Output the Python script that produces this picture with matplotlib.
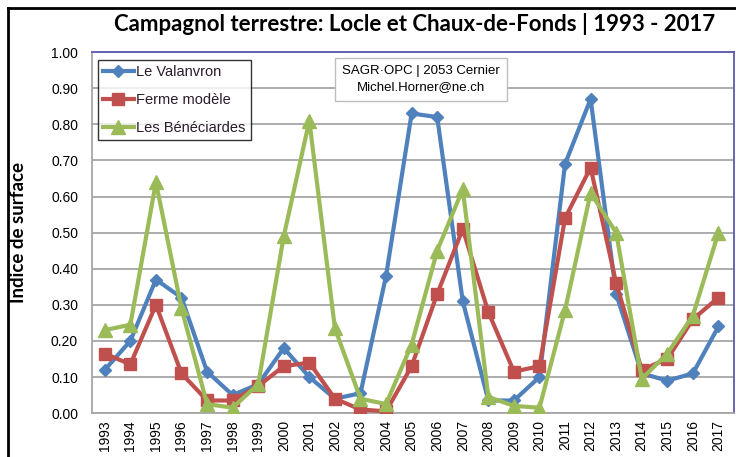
import matplotlib.pyplot as plt

years = list(range(1993, 2018))
valanvron = [0.12, 0.20, 0.37, 0.32, 0.115, 0.05, 0.08, 0.18, 0.10, 0.04, 0.055, 0.38, 0.83,
             0.82, 0.31, 0.035, 0.035, 0.10, 0.69, 0.87, 0.33, 0.11, 0.09, 0.11, 0.24]
ferme = [0.165, 0.135, 0.30, 0.11, 0.035, 0.035, 0.075, 0.13, 0.14, 0.04, 0.01, 0.005, 0.13,
         0.33, 0.51, 0.28, 0.115, 0.13, 0.54, 0.68, 0.36, 0.12, 0.15, 0.26, 0.32]
beneciardes = [0.23, 0.245, 0.64, 0.29, 0.025, 0.015, 0.08, 0.49, 0.81, 0.235, 0.04, 0.025, 0.19,
               0.45, 0.62, 0.045, 0.02, 0.015, 0.285, 0.61, 0.50, 0.095, 0.165, 0.27, 0.50]
yticks = [i / 10 for i in range(11)]

fig = plt.figure(figsize=(7.36, 4.57), dpi=100)
ax = fig.add_axes([0.125, 0.096, 0.872, 0.790])

# outer frame (black, top and left visible)
fx, fy = 8 / 736, 1 - 8 / 457
fig.add_artist(plt.Line2D([fx, fx], [0, fy], transform=fig.transFigure, color='black', lw=2))
fig.add_artist(plt.Line2D([fx, 1], [fy, fy], transform=fig.transFigure, color='black', lw=2))

ax.plot(years, valanvron, color='#4F81BD', lw=3, marker='D', ms=6, label='Le Valanvron', zorder=3)
ax.plot(years, ferme, color='#C0504D', lw=3, marker='s', ms=9, label='Ferme modèle', zorder=3)
ax.plot(years, beneciardes, color='#9BBB59', lw=3, marker='^', ms=10, label='Les Bénéciardes', zorder=3)

ax.set_xlim(1992.5, 2017.6)
ax.set_ylim(0, 1.0)
ax.set_yticks(yticks)
ax.set_yticklabels(['%.2f' % v for v in yticks], fontsize=10, family='Liberation Sans')
ax.set_xticks(years)
ax.set_xticklabels([str(y) for y in years], rotation=90, fontsize=10, family='Liberation Sans')
ax.tick_params(axis='y', length=0, pad=10)
ax.tick_params(axis='x', length=0, pad=5)
ax.grid(axis='y', color='#A6A6A6', lw=1.3)
ax.set_axisbelow(True)
for s in ['left', 'bottom']:
    ax.spines[s].set_color('#A6A6A6')
    ax.spines[s].set_linewidth(1.3)
for s in ['top', 'right']:
    ax.spines[s].set_color('#5B5BB0')
    ax.spines[s].set_linewidth(1.3)

ax.set_ylabel('Indice de surface', fontsize=13.5, fontweight='bold', family='Lato')
ax.yaxis.set_label_coords(-0.101, 0.5)
fig.suptitle('Campagnol terrestre: Locle et Chaux-de-Fonds | 1993 - 2017', x=0.563, y=0.972,
             fontsize=16, fontweight='bold', family='Lato')

leg = ax.legend(loc='upper left', bbox_to_anchor=(0.009, 0.978), borderaxespad=0, frameon=True,
                fancybox=False, edgecolor='black', handlelength=2.1, handletextpad=0.2,
                borderpad=0.35, labelspacing=0.95, prop={'family': 'Liberation Sans', 'size': 10.5})
leg.get_frame().set_linewidth(1)
for t in leg.get_texts():
    t.set_color('#2B1B2B')

ax.text(0.513, 0.925, 'SAGR·OPC | 2053 Cernier\nMichel.Horner@ne.ch', transform=ax.transAxes,
        ha='center', va='center', fontsize=9.5, family='Liberation Sans', linespacing=1.5,
        bbox=dict(boxstyle='square,pad=0.55', fc='white', ec='#BFBFBF', lw=1), zorder=5)

fig.savefig('out.png', dpi=100)
